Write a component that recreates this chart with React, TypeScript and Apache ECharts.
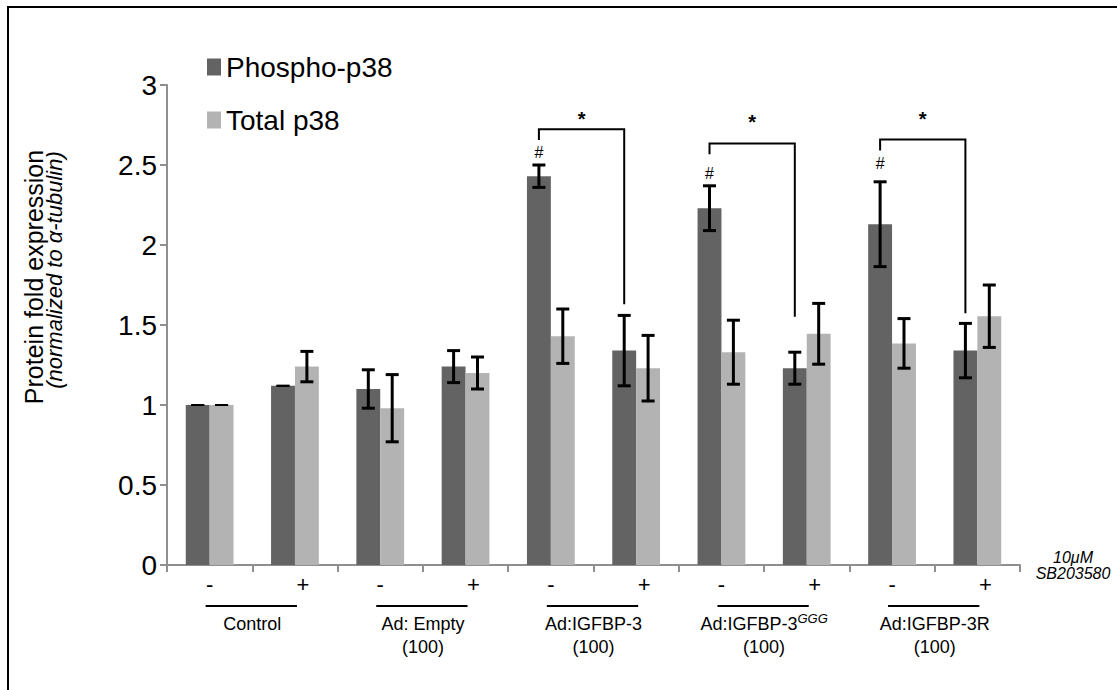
import React, { useEffect, useRef } from 'react';
import * as echarts from 'echarts';

const FONT = '"Liberation Sans", Arial, Helvetica, sans-serif';

const treatment = ['-', '+', '-', '+', '-', '+', '-', '+', '-', '+'];
const groupNames = ['Control', 'Ad: Empty', 'Ad:IGFBP-3', 'Ad:IGFBP-3', 'Ad:IGFBP-3R'];
const groupSup = ['', '', '', 'GGG', ''];
const groupDose = ['', '(100)', '(100)', '(100)', '(100)'];

const phospho = [1.0, 1.12, 1.1, 1.24, 2.43, 1.34, 2.23, 1.23, 2.13, 1.34];
const phosphoErr = [0, 0, 0.12, 0.1, 0.07, 0.22, 0.14, 0.1, 0.265, 0.17];
const total = [1.0, 1.24, 0.98, 1.2, 1.43, 1.23, 1.33, 1.445, 1.385, 1.555];
const totalErr = [0, 0.095, 0.21, 0.1, 0.17, 0.205, 0.2, 0.19, 0.155, 0.195];

const yTicks = [0, 0.5, 1, 1.5, 2, 2.5, 3];

// significance brackets
const bracketLeft = [4, 6, 8];
const bracketRight = [5, 7, 9];
const bracketTop = [2.723, 2.635, 2.66];
const bracketLeftBottom = [2.656, 2.567, 2.59];
const bracketRightBottom = [1.63, 1.552, 1.573];
const starY = [2.79, 2.77, 2.79];
const hashY = [2.58, 2.45, 2.51];

const BAR_FRAC = 0.28;

export default function App() {
  const ref = useRef<HTMLDivElement>(null);
  useEffect(() => {
    document.body.style.margin = '0';
    if (!ref.current) return;
    const chart = echarts.init(ref.current, undefined, { renderer: 'svg' });

    const errData: number[][] = [];
    phospho.forEach((v, i) => errData.push([i, v, phosphoErr[i], 0]));
    total.forEach((v, i) => errData.push([i, v, totalErr[i], 1]));

    const underlineData = groupNames.map((_, i) => [2 * i, 2 * i + 1, 0]);
    const bracketData = bracketLeft.map((l, i) => [
      l,
      bracketRight[i],
      bracketTop[i],
      bracketLeftBottom[i],
      bracketRightBottom[i],
      starY[i],
      hashY[i],
    ]);

    const option: any = {
      animation: false,
      backgroundColor: '#fff',
      textStyle: { fontFamily: FONT },
      grid: { left: 167, right: 97, top: 85, bottom: 125, containLabel: false },
      legend: {
        orient: 'vertical',
        left: 202,
        top: 48,
        itemWidth: 14,
        itemHeight: 17,
        itemGap: 25,
        itemStyle: { borderWidth: 0 },
        icon: 'rect',
        textStyle: { fontSize: 28, color: '#000', fontFamily: FONT },
        data: ['Phospho-p38', 'Total p38'],
      },
      graphic: [
        {
          type: 'rect',
          silent: true,
          shape: { x: 8, y: 7, width: 1300, height: 900 },
          style: { fill: 'none', stroke: '#000', lineWidth: 2 },
        },
        {
          type: 'text',
          silent: true,
          x: 34,
          y: 277,
          rotation: Math.PI / 2,
          style: {
            text: 'Protein fold expression',
            fontSize: 25,
            fontFamily: FONT,
            fill: '#000',
            align: 'center',
            verticalAlign: 'middle',
          },
        },
        {
          type: 'text',
          silent: true,
          x: 54,
          y: 270,
          rotation: Math.PI / 2,
          style: {
            text: '(normalized to α-tubulin)',
            fontSize: 22,
            fontStyle: 'italic',
            fontFamily: FONT,
            fill: '#000',
            align: 'center',
            verticalAlign: 'middle',
          },
        },
      ],
      xAxis: [
        {
          type: 'category',
          data: treatment.map((t, i) => `${t}${i}`),
          position: 'bottom',
          axisLine: { show: true, lineStyle: { color: '#8f8f8f', width: 2 } },
          axisTick: { show: true, length: 7, lineStyle: { color: '#8f8f8f', width: 2 } },
          axisLabel: {
            interval: 0,
            margin: 8,
            color: '#000',
            fontSize: 22,
            fontFamily: FONT,
            formatter: (_v: string, i: number) =>
              treatment[i] === '+' ? `{p|+}` : `{m|-}`,
            rich: {
              p: { fontSize: 22, fontFamily: FONT, color: '#000', padding: [0, 0, 0, 16] },
              m: { fontSize: 22, fontFamily: FONT, color: '#000' },
            },
          },
          name: '10μM\nSB203580',
          nameLocation: 'end',
          nameGap: 53,
          nameTextStyle: {
            fontSize: 16,
            lineHeight: 16,
            fontStyle: 'italic',
            fontFamily: FONT,
            color: '#000',
            align: 'center',
            padding: [16, 0, 0, 0],
          },
        },
        {
          type: 'category',
          data: groupNames.map((_, i) => `g${i}`),
          position: 'bottom',
          offset: 0,
          axisLine: { show: false },
          axisTick: { show: false },
          axisLabel: {
            interval: 0,
            margin: 47,
            color: '#000',
            fontFamily: FONT,
            fontSize: 18,
            lineHeight: 23,
            formatter: (_v: string, i: number) => {
              let s = `{n|${groupNames[i]}}`;
              if (groupSup[i]) s += `{sup|${groupSup[i]}}`;
              if (groupDose[i]) s += `\n{n|${groupDose[i]}}`;
              return s;
            },
            rich: {
              n: { fontSize: 18, lineHeight: 23, fontFamily: FONT, color: '#000' },
              sup: {
                fontSize: 13,
                fontStyle: 'italic',
                fontFamily: FONT,
                color: '#000',
                verticalAlign: 'top',
              },
            },
          },
        },
      ],
      yAxis: {
        type: 'value',
        min: 0,
        max: 3,
        interval: 0.5,
        axisLine: { show: true, lineStyle: { color: '#8f8f8f', width: 2 } },
        axisTick: { show: true, length: 7, lineStyle: { color: '#8f8f8f', width: 2 } },
        splitLine: { show: false },
        axisLabel: {
          color: '#000',
          fontSize: 28,
          fontFamily: FONT,
          margin: 10,
          formatter: (v: number) => (yTicks.includes(v) ? String(v) : ''),
        },
      },
      series: [
        {
          name: 'Phospho-p38',
          type: 'bar',
          xAxisIndex: 0,
          data: phospho,
          barWidth: `${BAR_FRAC * 100}%`,
          barGap: '0%',
          itemStyle: { color: '#636363' },
        },
        {
          name: 'Total p38',
          type: 'bar',
          xAxisIndex: 0,
          data: total,
          barWidth: `${BAR_FRAC * 100}%`,
          barGap: '0%',
          itemStyle: { color: '#b3b3b3' },
        },
        {
          name: 'errors',
          type: 'custom',
          xAxisIndex: 0,
          silent: true,
          z: 5,
          encode: { x: 0, y: 1 },
          data: errData,
          renderItem: (_p: any, api: any) => {
            const c = api.value(0);
            const v = api.value(1);
            const e = api.value(2);
            const s = api.value(3);
            const band = api.size([1, 0])[0];
            const half = (band * BAR_FRAC) / 2;
            const cx = api.coord([c, v])[0] + (s === 0 ? -half : half);
            const yT = api.coord([c, v + e])[1];
            const yB = api.coord([c, v - e])[1];
            const w = 6.5;
            const lw = e === 0 ? 2 : 3;
            const st = { stroke: '#000', lineWidth: lw };
            return {
              type: 'group',
              children: [
                { type: 'line', shape: { x1: cx, y1: yT, x2: cx, y2: yB }, style: st },
                { type: 'line', shape: { x1: cx - w, y1: yT, x2: cx + w, y2: yT }, style: st },
                { type: 'line', shape: { x1: cx - w, y1: yB, x2: cx + w, y2: yB }, style: st },
              ],
            };
          },
        },
        {
          name: 'underlines',
          type: 'custom',
          xAxisIndex: 0,
          silent: true,
          encode: { x: 0, y: 2 },
          data: underlineData,
          renderItem: (_p: any, api: any) => {
            const x1 = api.coord([api.value(0), 0])[0];
            const x2 = api.coord([api.value(1), 0])[0];
            const y0 = api.coord([0, 0])[1];
            return {
              type: 'line',
              shape: { x1: x1 - 4, y1: y0 + 41, x2: x2 + 2, y2: y0 + 41 },
              style: { stroke: '#000', lineWidth: 2 },
            };
          },
        },
        {
          name: 'brackets',
          type: 'custom',
          xAxisIndex: 0,
          silent: true,
          z: 6,
          encode: { x: 0, y: 2 },
          data: bracketData,
          renderItem: (_p: any, api: any) => {
            const band = api.size([1, 0])[0];
            const half = (band * BAR_FRAC) / 2;
            const lx = api.coord([api.value(0), 0])[0] - half;
            const rx = api.coord([api.value(1), 0])[0] - half;
            const yTop = api.coord([0, api.value(2)])[1];
            const yLB = api.coord([0, api.value(3)])[1];
            const yRB = api.coord([0, api.value(4)])[1];
            const yStar = api.coord([0, api.value(5)])[1];
            const yHash = api.coord([0, api.value(6)])[1];
            return {
              type: 'group',
              children: [
                {
                  type: 'polyline',
                  shape: { points: [[lx, yLB], [lx, yTop], [rx, yTop], [rx, yRB]] },
                  style: { stroke: '#000', lineWidth: 2, fill: 'none' },
                },
                {
                  type: 'text',
                  style: {
                    x: (lx + rx) / 2,
                    y: yStar,
                    text: '*',
                    fontSize: 20,
                    fontWeight: 'bold',
                    fontFamily: FONT,
                    fill: '#000',
                    align: 'center',
                    verticalAlign: 'middle',
                  },
                },
                {
                  type: 'text',
                  style: {
                    x: lx,
                    y: yHash,
                    text: '#',
                    fontSize: 16,
                    fontFamily: FONT,
                    fill: '#000',
                    align: 'center',
                    verticalAlign: 'middle',
                  },
                },
              ],
            };
          },
        },
      ],
    };
    chart.setOption(option);
    return () => chart.dispose();
  }, []);
  return <div ref={ref} style={{ width: 1117, height: 690 }} />;
}
